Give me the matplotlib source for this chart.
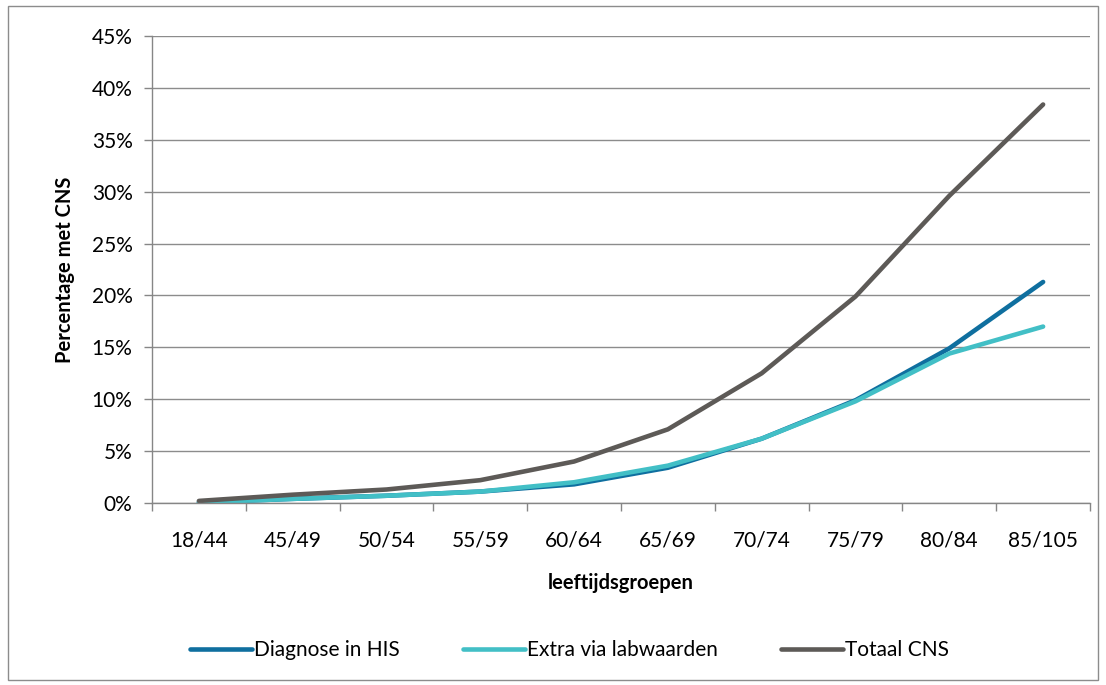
import matplotlib.pyplot as plt
from matplotlib.patches import Rectangle
from matplotlib.ticker import FuncFormatter, FixedLocator

plt.rcParams['font.family'] = ['Lato', 'DejaVu Sans']

groepen = ["18/44", "45/49", "50/54", "55/59", "60/64", "65/69",
           "70/74", "75/79", "80/84", "85/105"]
diagnose = [0.05, 0.4, 0.7, 1.1, 1.8, 3.4, 6.2, 9.9, 14.9, 21.3]
extra = [0.05, 0.4, 0.7, 1.1, 2.0, 3.6, 6.2, 9.8, 14.4, 17.0]
totaal = [0.2, 0.8, 1.3, 2.2, 4.0, 7.1, 12.5, 19.9, 29.6, 38.4]

fig = plt.figure(figsize=(11.06, 6.85), dpi=100)
ax = fig.add_axes([152/1106, 1 - 503/685, (1090-152)/1106, (503-36)/685])

x = [i + 0.5 for i in range(len(groepen))]
ax.plot(x, diagnose, color="#0f6f9f", lw=3.3, solid_capstyle="round", label="Diagnose in HIS")
ax.plot(x, extra, color="#42bfc6", lw=3.3, solid_capstyle="round", label="Extra via labwaarden")
ax.plot(x, totaal, color="#5d5a57", lw=3.3, solid_capstyle="round", label="Totaal CNS")

ax.set_xlim(0, len(groepen))
ax.set_ylim(0, 45)
ax.set_yticks(range(0, 46, 5))
ax.yaxis.set_major_formatter(FuncFormatter(lambda v, p: "%d%%" % v))
ax.set_xticks(x)
ax.set_xticklabels(groepen)
ax.xaxis.set_minor_locator(FixedLocator(range(len(groepen) + 1)))
ax.tick_params(axis="x", which="major", length=0, pad=20, labelsize=15)
ax.tick_params(axis="x", which="minor", length=6, color="#868686", width=1)
ax.tick_params(axis="y", length=6, color="#868686", width=1, pad=8, labelsize=15)

ax.grid(axis="y", color="#8c8c8c", lw=1)
ax.set_axisbelow(True)
for s in ["top", "right"]:
    ax.spines[s].set_visible(False)
for s in ["left", "bottom"]:
    ax.spines[s].set_color("#868686")
    ax.spines[s].set_linewidth(1)

ax.set_ylabel("Percentage met CNS", fontsize=14.5, fontweight="bold", labelpad=12)
ax.set_xlabel("leeftijdsgroepen", fontsize=14.5, fontweight="bold", labelpad=16)

fig.legend(loc="center", bbox_to_anchor=(0.515, 1 - 650/685), ncol=3, frameon=False,
           fontsize=15, handlelength=3.0, handletextpad=0.1, columnspacing=3.0)

fig.patches.append(Rectangle((8/1106, 5/685), 1090/1106, 674/685, transform=fig.transFigure,
                             fill=False, edgecolor="#8c8c8c", lw=1))

fig.savefig("out.png", dpi=100)
